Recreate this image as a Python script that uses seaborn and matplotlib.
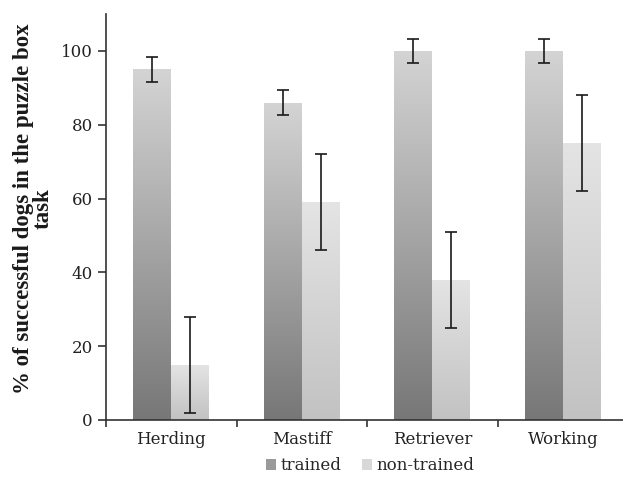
import numpy as np
import pandas as pd
import matplotlib
matplotlib.use("Agg")
import matplotlib.pyplot as plt
import seaborn as sns
from matplotlib.patches import Patch
from matplotlib.colors import LinearSegmentedColormap

categories = ["Herding", "Mastiff", "Retriever", "Working"]
groups = ["trained", "non-trained"]
trained = [95, 86, 100, 100]
non_trained = [15, 59, 38, 75]
trained_err = [3.3, 3.3, 3.3, 3.3]
non_trained_err = [13, 13, 13, 13]
yticks = [0, 20, 40, 60, 80, 100]
ylabel = "% of successful dogs in the puzzle box\ntask"

sns.set_theme(style="white")
plt.rcParams['font.family'] = ['DejaVu Serif']

df = pd.DataFrame({
    "breed": categories * 2,
    "group": [groups[0]] * 4 + [groups[1]] * 4,
    "value": trained + non_trained,
})

fig = plt.figure(figsize=(6.23, 4.82), dpi=100)
ax = fig.add_axes([106 / 623, 62 / 482, 522 / 623, (420 - 14) / 482])

sns.barplot(data=df, x="breed", y="value", hue="group", order=categories,
            hue_order=groups, palette=["#a0a0a0", "#d5d5d5"], width=0.58,
            errorbar=None, ax=ax, legend=False, linewidth=0)

grads = [("#777777", "#d4d4d4"), ("#c2c2c2", "#e4e4e4")]
errs = [trained_err, non_trained_err]
vals = [trained, non_trained]
bar_conts = list(ax.containers)[:2]
for ci, cont in enumerate(bar_conts):
    cmap = LinearSegmentedColormap.from_list("g%d" % ci, [grads[ci][0], grads[ci][1]])
    xs = []
    for bar in cont:
        x0, w, h = bar.get_x(), bar.get_width(), bar.get_height()
        xs.append(x0 + w / 2)
        bar.set_facecolor("none")
        grad = np.linspace(0, 1, 256).reshape(-1, 1)
        im = ax.imshow(grad, cmap=cmap, origin="lower", aspect="auto",
                       extent=[x0, x0 + w, 0, h], zorder=1.5)
        im.set_clip_path(bar)
    ax.errorbar(xs, vals[ci], yerr=errs[ci], fmt="none", ecolor="#1a1a1a",
                elinewidth=1.2, capsize=4.5, capthick=1.2, zorder=3)

ax.set_xlim(-0.5, 3.5)
ax.set_ylim(0, 110)
ax.set_yticks(yticks)
ax.set_xlabel("")
ax.set_ylabel(ylabel, fontsize=16.5, fontweight="bold", linespacing=0.95,
              family=["Liberation Serif"], color="#1a1a1a")
ax.yaxis.set_label_coords(-0.1, 0.52)

sns.despine(ax=ax)
for s in ["left", "bottom"]:
    ax.spines[s].set_color("#333333")
    ax.spines[s].set_linewidth(1.2)

ax.set_xticks(range(len(categories)))
ax.set_xticklabels(categories)
ax.set_xticks(np.arange(-0.5, 4, 1), minor=True)
ax.tick_params(axis="x", which="major", length=0, labelsize=12, pad=8, labelcolor="#222222")
ax.tick_params(axis="x", which="minor", length=5, width=1.2, color="#333333", direction="out", bottom=True)
ax.tick_params(axis="y", length=6, width=1.2, color="#333333", labelsize=12, left=True,
               direction="out", labelcolor="#222222")

handles = [Patch(facecolor="#9a9a9a", edgecolor="none"),
           Patch(facecolor="#d8d8d8", edgecolor="none")]
fig.legend(handles, groups, loc="center", bbox_to_anchor=(370 / 623, 1 - 466 / 482),
           ncol=2, frameon=False, fontsize=12, handlelength=0.6, handleheight=0.6,
           handletextpad=0.3, columnspacing=1.2)

fig.savefig("out.png", dpi=100)
